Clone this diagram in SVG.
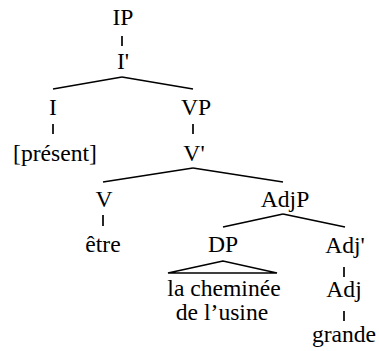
<svg xmlns="http://www.w3.org/2000/svg" width="379" height="351" viewBox="0 0 379 351">
<style>
.e{stroke:#000;stroke-width:1.7;fill:none}
</style>
<rect width="379" height="351" fill="#fff"/>
<g id="connectors">
<line class="e" x1="122" y1="36" x2="122" y2="46"/>
<line class="e" x1="122" y1="77" x2="53" y2="89"/>
<line class="e" x1="122" y1="77" x2="193" y2="89"/>
<line class="e" x1="53" y1="124" x2="53" y2="134"/>
<line class="e" x1="193" y1="124" x2="193" y2="134"/>
<line class="e" x1="193" y1="168" x2="103" y2="182"/>
<line class="e" x1="193" y1="168" x2="283" y2="182"/>
<line class="e" x1="103" y1="215" x2="103" y2="226"/>
<line class="e" x1="283" y1="214" x2="223" y2="227"/>
<line class="e" x1="283" y1="214" x2="345" y2="227"/>
<polygon class="e" points="223,261 168,273 277,273"/>
<line class="e" x1="344" y1="267" x2="344" y2="277"/>
<line class="e" x1="344" y1="311" x2="344" y2="321"/>
</g>
<g font-family="Liberation Serif" font-size="23.6" fill="#000" text-anchor="middle">
<g id="IP"><text x="123" y="25">IP</text></g>
<g id="Ibar"><text x="123" y="69">I'</text></g>
<g id="I"><text x="53" y="115">I</text></g>
<g id="present"><text x="55" y="161">[présent]</text></g>
<g id="VP"><text x="196" y="115">VP</text></g>
<g id="Vbar"><text x="194" y="161">V'</text></g>
<g id="V"><text x="104" y="207">V</text></g>
<g id="etre"><text x="103" y="252">être</text></g>
<g id="AdjP"><text x="285" y="207">AdjP</text></g>
<g id="DP"><text x="223" y="252">DP</text></g>
<g id="lacheminee"><text x="224" y="296">la cheminée</text><text x="222" y="320">de l’usine</text></g>
<g id="Adjbar"><text x="345" y="253">Adj'</text></g>
<g id="Adj"><text x="344" y="297">Adj</text></g>
<g id="grande"><text x="344" y="342">grande</text></g>
</g>
</svg>
